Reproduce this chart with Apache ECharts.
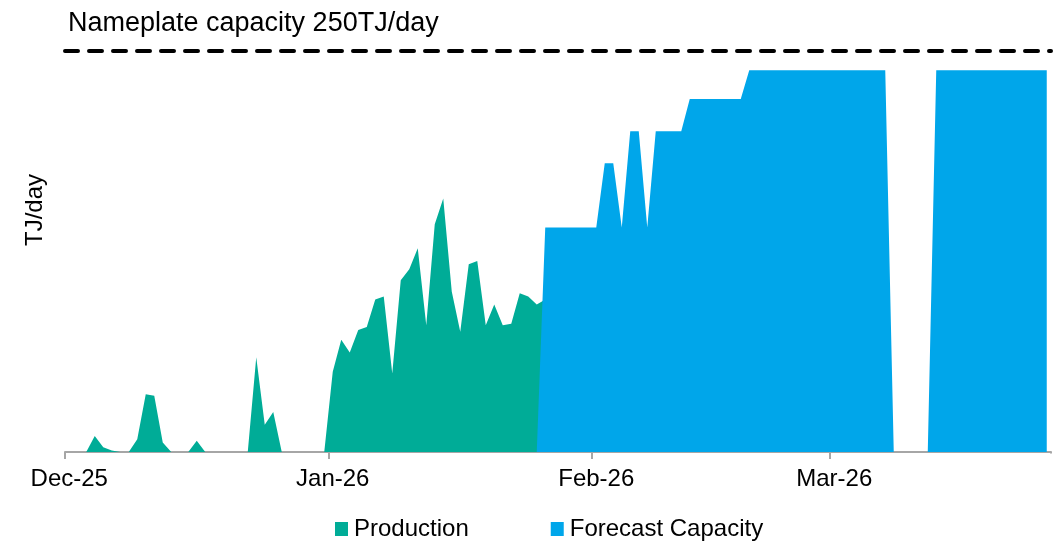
<!DOCTYPE html>
<html>
<head>
<meta charset="utf-8">
<script src="https://cdn.jsdelivr.net/npm/echarts@6/dist/echarts.min.js"></script>
<style>
  html, body { margin: 0; padding: 0; background: #fff; }
  #chart { width: 1061px; height: 545px; }
</style>
</head>
<body>
<div id="chart"></div>
<script>
// daily categories, Dec 1 2025 .. Mar 26 2026
const startDate = Date.UTC(2025, 11, 1);
const dayCount = 116;
const monthNames = ['Jan', 'Feb', 'Mar', 'Apr', 'May', 'Jun', 'Jul', 'Aug', 'Sep', 'Oct', 'Nov', 'Dec'];

const nameplate = 250;

// TJ/day, from Dec 1
const production = [
  0, 0, 0, 10, 3, 1, 0, 0, 8, 36,
  35, 6, 0, 0, 0, 7, 0, 0, 0, 0,
  0, 0, 59, 17, 25, 0, 0, 0, 0, 0,
  0, 50, 70, 62, 76, 78, 95, 97, 49, 107,
  114, 127, 79, 142, 158, 100, 75, 117, 119, 79,
  92, 79, 80, 99, 97, 92, 95
];

const forecast = [
  null, null, null, null, null, null, null, null, null, null,
  null, null, null, null, null, null, null, null, null, null,
  null, null, null, null, null, null, null, null, null, null,
  null, null, null, null, null, null, null, null, null, null,
  null, null, null, null, null, null, null, null, null, null,
  null, null, null, null, null, 0, 140, 140, 140, 140,
  140, 140, 140, 180, 180, 140, 200, 200, 140, 200,
  200, 200, 200, 220, 220, 220, 220, 220, 220, 220,
  238, 238, 238, 238, 238, 238, 238, 238, 238, 238,
  238, 238, 238, 238, 238, 238, 238, 0, 0, 0,
  0, 0, 238, 238, 238, 238, 238, 238, 238, 238,
  238, 238, 238, 238, 238, 238
];

const days = [];
for (let i = 0; i < dayCount; i++) {
  const d = new Date(startDate + i * 86400000);
  const mm = String(d.getUTCMonth() + 1).padStart(2, '0');
  const dd = String(d.getUTCDate()).padStart(2, '0');
  days.push(d.getUTCFullYear() + '-' + mm + '-' + dd);
}

const isMonthStart = (idx, value) => days[idx].slice(8) === '01';

const chart = echarts.init(document.getElementById('chart'));
const font = 'Liberation Sans, Arial, sans-serif';

chart.setOption({
  animation: false,
  color: ['#00AC97', '#00A6EA'],
  textStyle: { fontFamily: font, color: '#000' },
  title: {
    text: 'Nameplate capacity 250TJ/day',
    left: 63,
    top: 5,
    textStyle: { fontSize: 27, fontWeight: 'normal', color: '#000', fontFamily: font }
  },
  graphic: [
    {
      type: 'text',
      x: 35,
      y: 210,
      rotation: Math.PI / 2,
      style: {
        text: 'TJ/day',
        align: 'center',
        verticalAlign: 'middle',
        fontSize: 24,
        fontFamily: font,
        fill: '#000'
      }
    },
    {
      // hide the closing tick at the right end of the axis
      type: 'rect',
      shape: { x: 1048, y: 453.5, width: 8, height: 9 },
      style: { fill: '#fff' },
      z: 100
    }
  ],
  legend: {
    data: ['Production', 'Forecast Capacity'],
    left: 330,
    top: 512,
    icon: 'rect',
    itemWidth: 13,
    itemHeight: 14,
    itemGap: 82,
    textStyle: { fontSize: 24, color: '#000', fontFamily: font, padding: [0, 0, 0, 1] }
  },
  grid: { left: 65, right: 10, top: 51, bottom: 93 },
  xAxis: {
    type: 'category',
    data: days,
    boundaryGap: true,
    axisLine: { lineStyle: { color: '#A6A6A6', width: 2 } },
    axisTick: {
      show: true,
      interval: isMonthStart,
      length: 7,
      lineStyle: { color: '#A6A6A6', width: 2 }
    },
    axisLabel: {
      interval: isMonthStart,
      margin: 15,
      fontSize: 24,
      color: '#000',
      fontFamily: font,
      formatter: v => monthNames[Number(v.slice(5, 7)) - 1] + '-' + v.slice(2, 4)
    }
  },
  yAxis: {
    type: 'value',
    min: 0,
    max: nameplate,
    axisLine: { show: false },
    axisTick: { show: false },
    axisLabel: { show: false },
    splitLine: { show: false }
  },
  series: [
    {
      name: 'Production',
      type: 'line',
      data: production,
      showSymbol: false,
      lineStyle: { width: 0 },
      areaStyle: { opacity: 1 }
    },
    {
      name: 'Forecast Capacity',
      type: 'line',
      data: forecast,
      showSymbol: false,
      connectNulls: false,
      lineStyle: { width: 0 },
      areaStyle: { opacity: 1 },
      markLine: {
        silent: true,
        symbol: 'none',
        label: { show: false },
        lineStyle: { color: '#000', width: 4, type: [13, 11], cap: 'round' },
        data: [{ yAxis: nameplate }]
      }
    }
  ]
});
</script>
</body>
</html>
